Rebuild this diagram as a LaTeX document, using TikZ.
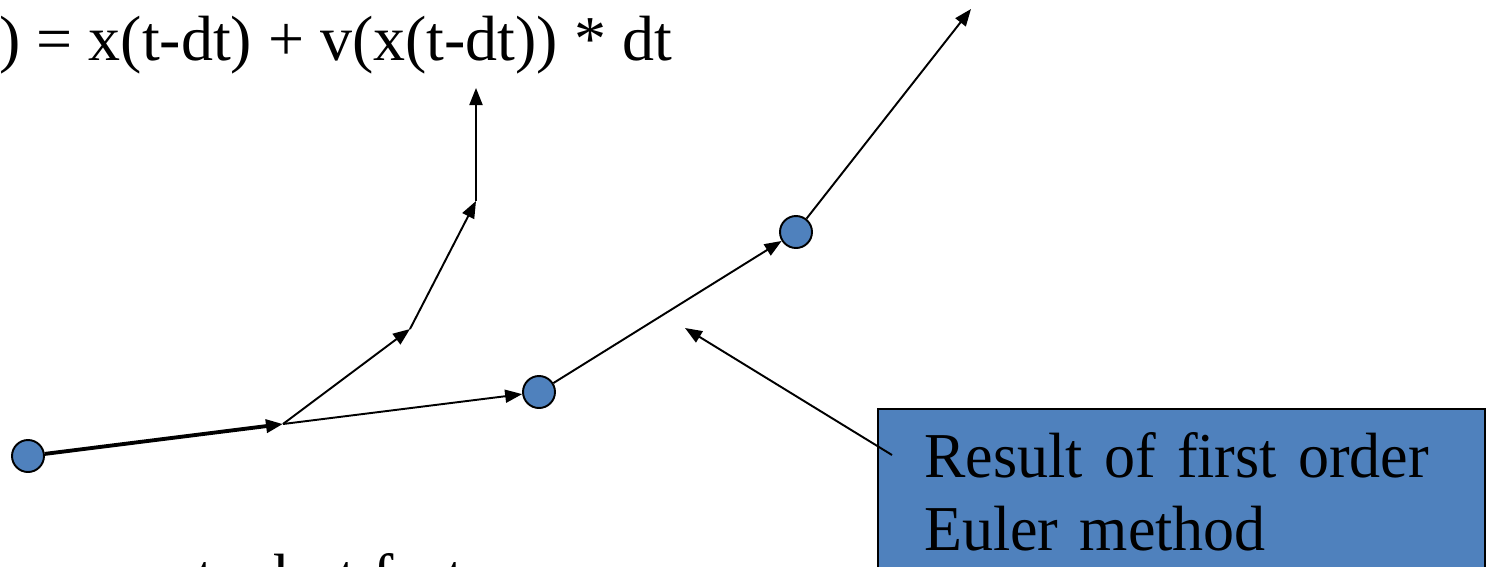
\documentclass[tikz,border=0pt]{standalone}
\usepackage{fontspec}
\setmainfont{Liberation Serif}
\newfontfamily\notefont[FakeStretch=0.97,WordSpace=0.7]{Liberation Serif}
\usepackage{tikz}
\usetikzlibrary{arrows.meta,calc}
\definecolor{PointBlue}{HTML}{4F81BD}

\begin{document}
\begin{tikzpicture}[x=0.02cm,y=-0.02cm, every node/.style={font=\fontsize{36.4pt}{41.5pt}\selectfont},
  point/.style={circle,draw,fill=PointBlue,line width=1.1pt,minimum size=0.64cm,inner sep=0pt},
  vec/.style={line width=1.1pt,-{Triangle[length=0.34cm,width=0.26cm]}}]
\useasboundingbox (0,0) rectangle (1492,566);
\clip (0,0) rectangle (1492,566);
\node[anchor=base west,inner sep=0pt] (eq) at (-72,60) {x(t) = x(t-dt) + v(x(t-dt)) * dt};
\node[anchor=base west,inner sep=0pt] (remark) at (-24,598) {Inaccurate, but fast};
\node[point] (pa) at (28,456) {};
\node[point] (pb) at (539,392) {};
\node[point] (pc) at (796,232) {};
\coordinate (m1) at (283,424);
\coordinate (m2) at (410,329);
\coordinate (m3) at (476,201);
\coordinate (m4) at (476,88);
\coordinate (tip) at (971,9);
\coordinate (gap) at (685,328);
\node[draw,fill=PointBlue,line width=1.4pt,anchor=north west,text width=10.3cm,minimum width=12.14cm,
  inner xsep=0.92cm,inner ysep=0.46cm,align=left,font=\notefont\fontsize{36.4pt}{41.5pt}\selectfont]
  (note) at (877,408) {Result of first order\\Euler method};
\draw[vec,line width=2.2pt] (pa) -- (m1);
\draw[vec] (m1) -- (pb);
\draw[vec] (m1) -- (m2);
\draw[vec] (m2) -- (m3);
\draw[vec] (m3) -- (m4);
\draw[vec] (pb) -- (pc);
\draw[vec] (pc) -- (tip);
\draw[vec] ($(note.north west)+(15,47)$) -- (gap);
\end{tikzpicture}
\end{document}
